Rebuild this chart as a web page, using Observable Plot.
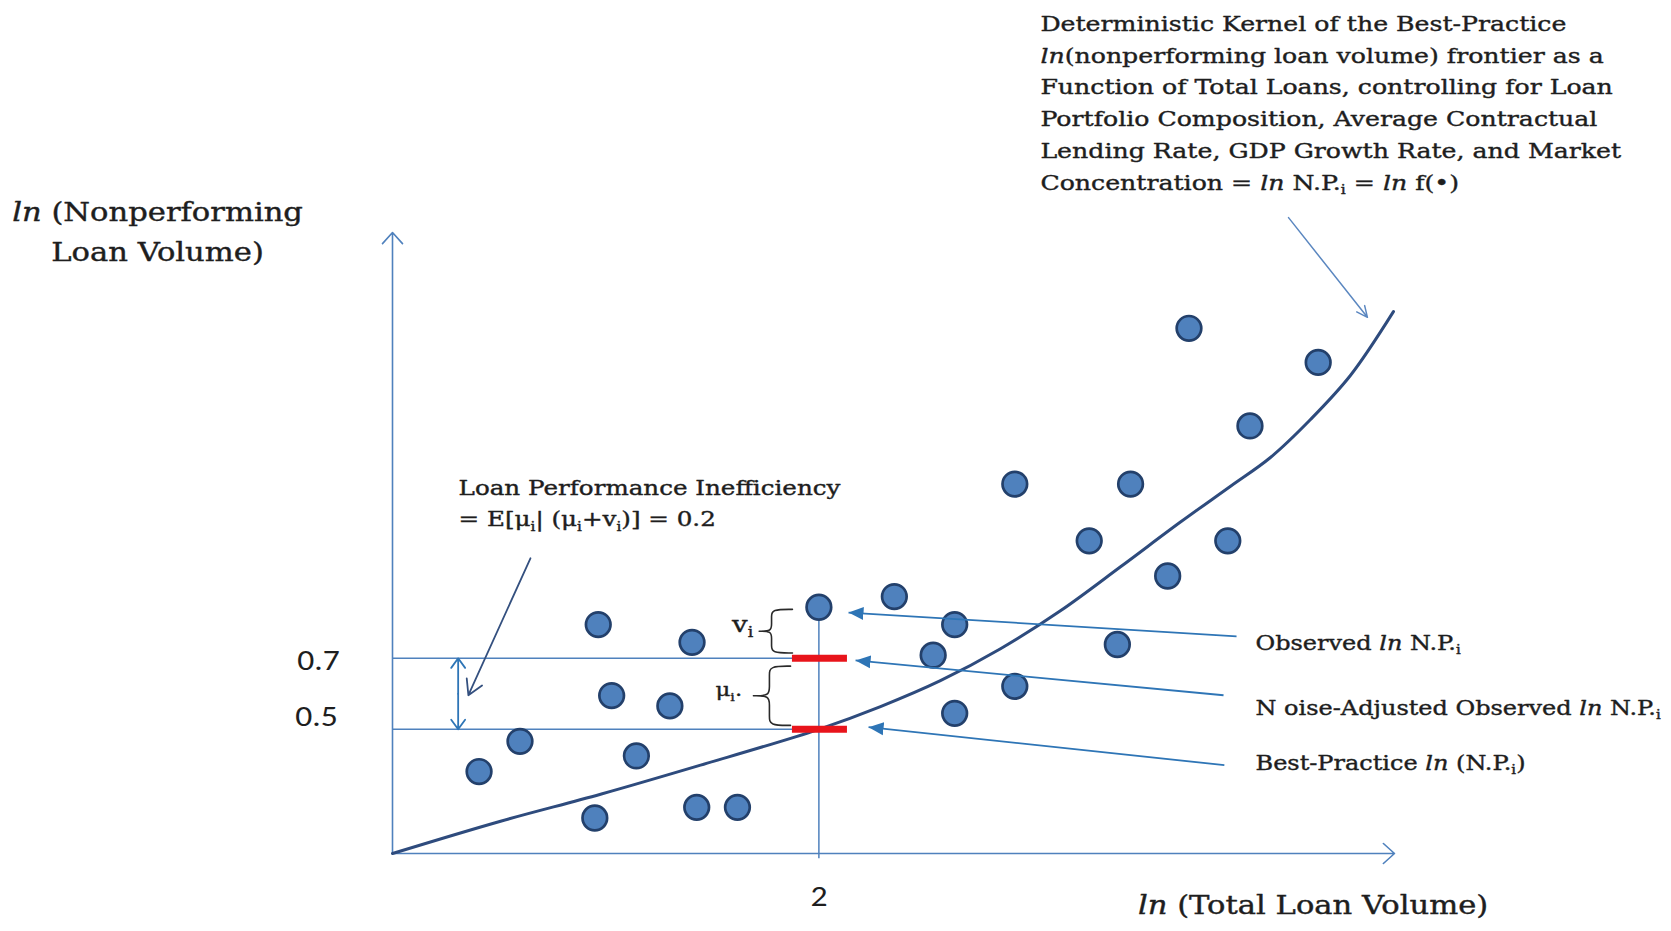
<!DOCTYPE html>
<html>
<head>
<meta charset="utf-8">
<script src="https://cdn.jsdelivr.net/npm/d3@7"></script>
<script src="https://cdn.jsdelivr.net/npm/@observablehq/plot@0.6"></script>
<style>
  html, body { margin: 0; padding: 0; background: #ffffff; }
  #chart svg { display: block; }
</style>
</head>
<body>
<div id="chart"></div>
<script>
// ---------------- data ----------------
// bank observations: ln(total loan volume) vs ln(nonperforming loan volume)
const bankX = [3.736, 4.342, 4.022, 2.919, 3.462, 3.268, 3.918, 3.636, 2.354, 2.0,
               2.637, 3.400, 0.965, 1.405, 2.536, 2.919, 1.028, 1.301, 2.637, 0.598,
               1.144, 0.406, 0.949, 1.427, 1.618];
const bankY = [1.630, 1.534, 1.355, 1.191, 1.191, 1.031, 1.031, 0.932, 0.874, 0.844,
               0.795, 0.739, 0.795, 0.745, 0.709, 0.621, 0.595, 0.566, 0.545, 0.466,
               0.425, 0.381, 0.250, 0.280, 0.280];
// best-practice frontier (deterministic kernel)
const frontierX = [0, 0.507, 0.976, 1.445, 2.0, 2.289, 2.570, 2.852, 3.133, 3.415, 3.696, 3.931, 4.118, 4.306, 4.493, 4.695];
const frontierY = [0.15, 0.241, 0.317, 0.399, 0.5, 0.564, 0.637, 0.727, 0.834, 0.958, 1.084, 1.185, 1.266, 1.373, 1.497, 1.677];
// focal bank i
const focalX = 2;
const observedY = 0.844;   // observed ln N.P.i
const noiseAdjY = 0.7;     // noise-adjusted observed
const bestY = 0.5;         // best-practice
// tick labels
const xTickValues = [2];
const xTickLabels = ["2"];
const yTickValues = [0.7, 0.5];
const yTickLabels = ["0.7", "0.5"];
// axis extent
const xMin = 0, xMax = 4.7, yMin = 0.15, yMax = 1.9;

// annotation texts (*..* = italic, _.._ = subscript)
const kernelLines = [
  "Deterministic Kernel of the Best-Practice",
  "*ln*(nonperforming loan volume) frontier as a",
  "Function of Total Loans, controlling for Loan",
  "Portfolio Composition, Average Contractual",
  "Lending Rate, GDP Growth Rate, and Market",
  "Concentration = *ln* N.P._i_ = *ln* f(•)"
];
const kernelY = [2.488, 2.398, 2.308, 2.218, 2.128, 2.040];
const kernelX = 3.039;

const yTitleLines = ["*ln* (Nonperforming", "Loan Volume)"];
const yTitleY = [1.956, 1.844];
const yTitleX = -1.102;
const xTitle = "*ln* (Total Loan Volume)";
const xTitleX = 4.318;

const lpiLines = ["Loan Performance Inefficiency", "= E[μ_i_| (μ_i_+v_i_)] = 0.2"];
const lpiY = [1.179, 1.091];
const lpiX = 0.31;

const pointerLabels = ["Observed *ln* N.P._i_", "N oise-Adjusted Observed *ln* N.P._i_", "Best-Practice *ln* (N.P._i_)"];
const pointerLabelY = [0.742, 0.559, 0.404];
const pointerLabelX = 4.048;
const pointerX1 = [3.959, 3.898, 3.902];
const pointerY1 = [0.762, 0.596, 0.399];
const pointerX2 = [2.139, 2.172, 2.233];
const pointerY2 = [0.829, 0.694, 0.506];

// ---------------- build ----------------
const banks = bankX.map((x, i) => ({x, y: bankY[i]}));
const frontier = frontierX.map((x, i) => ({x, y: frontierY[i]}));
const pointers = pointerX1.map((x1, i) => ({x1, y1: pointerY1[i], x2: pointerX2[i], y2: pointerY2[i]}));

const SERIF = "DejaVu Serif";
const DIGITS = "Carlito, Lato, sans-serif";
const INK = "#1e1e1e";
const AXIS = "#4F81BD";
const STRETCH = 1.2;   // the source figure's lettering is horizontally widened

function brace(y0, y1, xs, xh, xt, r, id) {
  const ym = (y0 + y1) / 2;
  return [
    [xh, y1], [xs, y1], [xs, y1 - r], [xs, ym + r], [xs, ym],
    [xt, ym], [xt, ym], [xt, ym],
    [xs, ym], [xs, ym - r], [xs, y0 + r], [xs, y0], [xh, y0]
  ].map(([x, y]) => ({x, y, id}));
}
const braces = [
  ...brace(noiseAdjY + 0.015, observedY - 0.006, 1.778, 1.876, 1.720, 0.02, "v"),
  ...brace(bestY + 0.011, noiseAdjY - 0.022, 1.768, 1.867, 1.693, 0.025, "u")
];

const svgNS = "http://www.w3.org/2000/svg";
function filledArrow(color) {
  const m = document.createElementNS(svgNS, "marker");
  m.setAttribute("viewBox", "-15 -7 15 14");
  m.setAttribute("markerWidth", 15);
  m.setAttribute("markerHeight", 14);
  m.setAttribute("markerUnits", "userSpaceOnUse");
  m.setAttribute("refX", 0);
  m.setAttribute("refY", 0);
  m.setAttribute("orient", "auto");
  const p = document.createElementNS(svgNS, "path");
  p.setAttribute("d", "M-15,-6.5L0,0L-15,6.5Z");
  p.setAttribute("fill", color);
  p.setAttribute("stroke", "none");
  m.appendChild(p);
  return m;
}

const serifText = (fontSize) => ({fontFamily: SERIF, fontSize, fill: INK, stroke: INK, strokeWidth: 0.4, paintOrder: "fill"});

function makePlot(markerEnd) {
  return Plot.plot({
    width: 1671,
    height: 931,
    marginLeft: 392,
    marginRight: 277,
    marginTop: 232,
    marginBottom: 78,
    x: {domain: [xMin, xMax], axis: null},
    y: {domain: [yMin, yMax], axis: null},
    style: {background: "#ffffff", overflow: "visible"},
    marks: [
      // guide lines
      Plot.ruleY([noiseAdjY, bestY], {x1: xMin, x2: focalX, stroke: AXIS, strokeWidth: 1.5}),
      Plot.ruleX([focalX], {y1: yMin - 0.015, y2: observedY, stroke: AXIS, strokeWidth: 1.5}),
      // axes with arrows
      Plot.arrow([{x1: xMin, y1: yMin, x2: xMin, y2: yMax}], {x1: "x1", y1: "y1", x2: "x2", y2: "y2", stroke: AXIS, strokeWidth: 1.6, headLength: 14, headAngle: 84}),
      Plot.arrow([{x1: xMin, y1: yMin, x2: xMax, y2: yMin}], {x1: "x1", y1: "y1", x2: "x2", y2: "y2", stroke: AXIS, strokeWidth: 1.6, headLength: 14, headAngle: 84}),
      // frontier
      Plot.line(frontier, {x: "x", y: "y", curve: "catmull-rom", stroke: "#2E4B7D", strokeWidth: 3}),
      // red bars
      Plot.ruleY([noiseAdjY, bestY], {x1: 1.876, x2: 2.134, stroke: "#E8141B", strokeWidth: 7}),
      // observations
      Plot.dot(banks, {x: "x", y: "y", r: 12.3, fill: "#4F81BD", stroke: "#23406B", strokeWidth: 2.7}),
      // pointer arrows
      Plot.link(pointers, {x1: "x1", y1: "y1", x2: "x2", y2: "y2", stroke: "#2E75B6", strokeWidth: 1.8, markerEnd}),
      // kernel arrow
      Plot.arrow([{x1: 4.203, y1: 1.942, x2: 4.573, y2: 1.661}], {x1: "x1", y1: "y1", x2: "x2", y2: "y2", stroke: "#5B87C0", strokeWidth: 1.5, headLength: 12, headAngle: 50}),
      // inefficiency leader
      Plot.arrow([{x1: 0.647, y1: 0.982, x2: 0.356, y2: 0.596}], {x1: "x1", y1: "y1", x2: "x2", y2: "y2", stroke: "#34507F", strokeWidth: 1.8, headLength: 14, headAngle: 60}),
      // double arrow between 0.5 and 0.7
      Plot.arrow([{x1: 0.308, y1: (noiseAdjY + bestY) / 2, x2: 0.308, y2: noiseAdjY}, {x1: 0.308, y1: (noiseAdjY + bestY) / 2, x2: 0.308, y2: bestY}],
        {x1: "x1", y1: "y1", x2: "x2", y2: "y2", stroke: "#2E75B6", strokeWidth: 1.8, headLength: 13, headAngle: 72}),
      // braces
      Plot.line(braces, {x: "x", y: "y", z: "id", curve: "basis", stroke: "#2a2a2a", strokeWidth: 1.6}),
      // brace labels
      Plot.text(["v_i_"], {x: 1.692, y: 0.795, text: d => d, textAnchor: "end", ...serifText(23)}),
      Plot.text(["μ_i_."], {x: 1.640, y: 0.610, text: d => d, textAnchor: "end", ...serifText(19)}),
      // tick labels
      Plot.text(xTickLabels, {x: xTickValues, y: xTickValues.map(() => yMin), dy: 44, text: d => d, fontFamily: DIGITS, fontSize: 28, fill: INK}),
      Plot.text([yTickLabels[0]], {x: [xMin], y: [yTickValues[0]], dx: -74, dy: 3, text: d => d, fontFamily: DIGITS, fontSize: 28, fill: INK}),
      Plot.text([yTickLabels[1]], {x: [xMin], y: [yTickValues[1]], dx: -76, dy: -12, text: d => d, fontFamily: DIGITS, fontSize: 28, fill: INK}),
      // axis titles
      Plot.text(yTitleLines, {x: yTitleLines.map(() => yTitleX), y: yTitleY, text: d => d, ...serifText(25.5)}),
      Plot.text([xTitle], {x: [xTitleX], y: [yMin], dy: 52, text: d => d, ...serifText(25.5)}),
      // kernel annotation
      Plot.text(kernelLines, {x: kernelLines.map(() => kernelX), y: kernelY, text: d => d, textAnchor: "start", ...serifText(21)}),
      // inefficiency annotation
      Plot.text(lpiLines, {x: lpiLines.map(() => lpiX), y: lpiY, text: d => d, textAnchor: "start", ...serifText(20.5)}),
      // pointer labels
      Plot.text(pointerLabels, {x: pointerLabels.map(() => pointerLabelX), y: pointerLabelY, text: d => d, textAnchor: "start", ...serifText(20)})
    ]
  });
}

let chart;
try {
  chart = makePlot(filledArrow);
} catch (e) {
  chart = makePlot("arrow");
}
document.getElementById("chart").appendChild(chart);

// rich text: *italic* and _subscript_, plus horizontal widening of the lettering
d3.select(chart).selectAll("text").each(function () {
  const el = this;
  const tr = el.getAttribute("transform");
  if (tr) {
    el.setAttribute("transform", tr + ` scale(${STRETCH},1)`);
  } else {
    const x = +(el.getAttribute("x") || 0), y = +(el.getAttribute("y") || 0);
    el.removeAttribute("x"); el.removeAttribute("y");
    el.setAttribute("transform", `translate(${x},${y}) scale(${STRETCH},1)`);
  }
  if (el.querySelector("tspan")) return;
  const s = el.textContent;
  if (!/[*_]/.test(s)) return;
  const fs = parseFloat(getComputedStyle(el).fontSize) || 20;
  const parts = s.split(/(\*[^*]+\*|_[^_]+_)/).filter(p => p !== "");
  el.textContent = "";
  let shift = 0;
  for (const p of parts) {
    const t = document.createElementNS(svgNS, "tspan");
    if (p[0] === "_") {
      t.textContent = p.slice(1, -1);
      t.setAttribute("font-size", (fs * 0.62).toFixed(1));
      const d = fs * 0.22;
      t.setAttribute("dy", (d - shift).toFixed(2));
      shift = d;
    } else {
      if (p[0] === "*") {
        t.textContent = p.slice(1, -1);
        t.setAttribute("font-style", "italic");
      } else {
        t.textContent = p;
      }
      if (shift) { t.setAttribute("dy", (-shift).toFixed(2)); shift = 0; }
    }
    el.appendChild(t);
  }
});
</script>
</body>
</html>
